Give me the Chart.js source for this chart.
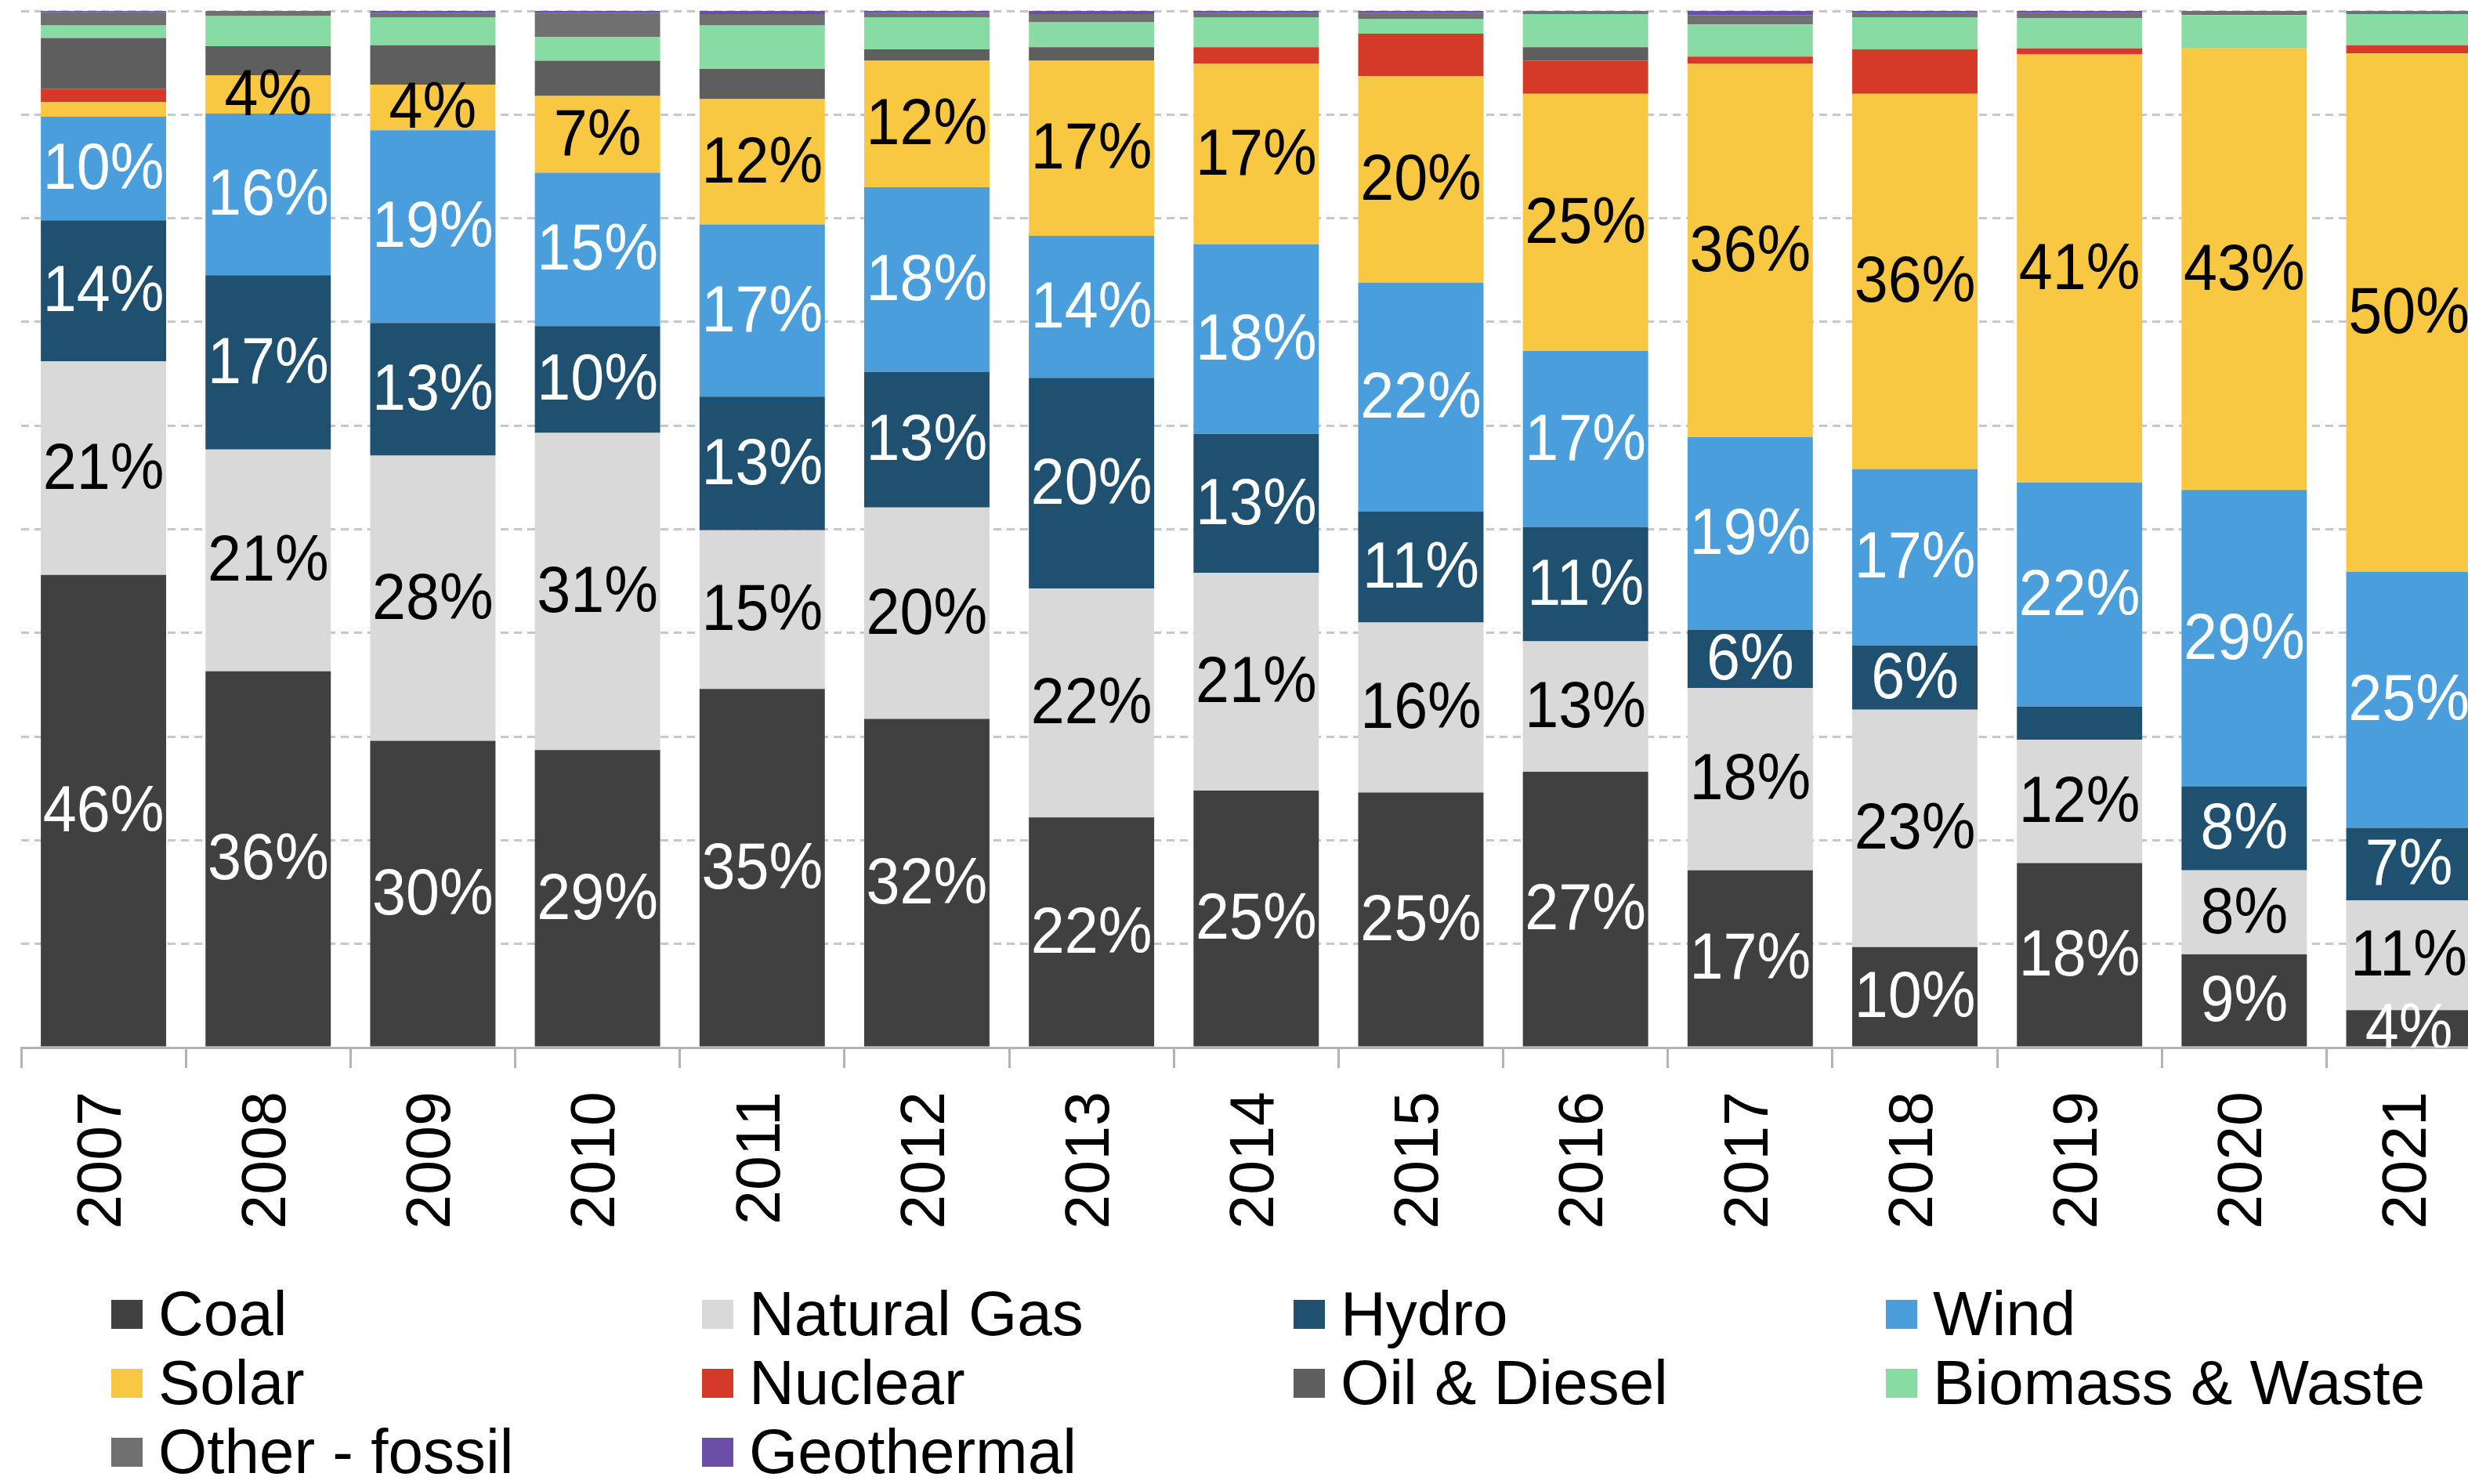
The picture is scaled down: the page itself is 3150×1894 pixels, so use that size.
<!DOCTYPE html>
<html>
<head>
<meta charset="utf-8">
<script src="https://cdn.jsdelivr.net/npm/chart.js@4.4.1/dist/chart.umd.min.js"></script>
<style>
  html, body { margin: 0; padding: 0; background: #fff; overflow: hidden; width: 3150px; height: 1894px; }
  #wrap { position: absolute; left: 0; top: 0; width: 3200px; height: 1577px; }
  #legend { position: absolute; left: 0; top: 0; width: 3150px; height: 1894px; pointer-events: none; }
  .item { position: absolute; display: flex; align-items: center; height: 88px;
          font-family: "Liberation Sans", Arial, sans-serif; font-size: 80px; line-height: 1; color: #000; white-space: nowrap; }
  .box { width: 40px; height: 37px; margin-right: 20px; flex: none; }
</style>
</head>
<body>
<div id="wrap"><canvas id="chartCanvas" width="3200" height="1577"></canvas></div>
<div id="legend"></div>
<script>
// share of generation, %
const years = ["2007", "2008", "2009", "2010", "2011", "2012", "2013", "2014", "2015", "2016", "2017", "2018", "2019", "2020", "2021"];
const coal = [45.6, 36.3, 29.6, 28.7, 34.6, 31.7, 22.2, 24.8, 24.6, 26.6, 17.1, 9.7, 17.8, 9.0, 3.6];
const naturalGas = [20.6, 21.4, 27.5, 30.6, 15.3, 20.4, 22.1, 21.0, 16.4, 12.6, 17.6, 22.9, 11.9, 8.1, 10.6];
const hydro = [13.6, 16.8, 12.8, 10.3, 12.9, 13.1, 20.3, 13.4, 10.7, 11.0, 5.6, 6.2, 3.2, 8.1, 7.0];
const wind = [10.0, 15.6, 18.6, 14.8, 16.6, 17.8, 13.7, 18.3, 22.1, 17.0, 18.6, 17.0, 21.6, 28.6, 24.7];
const solar = [1.4, 3.7, 4.4, 7.4, 12.1, 12.2, 16.9, 17.4, 19.9, 24.8, 36.0, 36.2, 41.3, 42.6, 50.0];
const nuclear = [1.3, 0, 0, 0, 0, 0, 0, 1.6, 4.1, 3.2, 0.7, 4.3, 0.6, 0, 0.8];
const oilDiesel = [4.9, 2.8, 3.8, 3.4, 2.9, 1.1, 1.3, 0, 0, 1.3, 0, 0, 0, 0, 0];
const biomass = [1.2, 2.9, 2.7, 2.3, 4.2, 3.1, 2.4, 2.9, 1.4, 3.2, 3.1, 3.1, 2.9, 3.2, 3.0];
const otherFossil = [1.3, 0.5, 0.4, 2.3, 1.1, 0.4, 0.8, 0.4, 0.6, 0.3, 0.9, 0.4, 0.5, 0.4, 0.3];
const geothermal = [0.1, 0, 0.2, 0.2, 0.3, 0.2, 0.3, 0.2, 0.2, 0, 0.4, 0.2, 0.2, 0, 0];

const font = '"Liberation Sans", Arial, sans-serif';
// label colour per series; series without an entry get no labels
const labelColors = ["#fff", "#000", "#fff", "#fff", "#000"];

const segmentLabels = {
  id: "segmentLabels",
  afterDatasetsDraw(chart) {
    const ctx = chart.ctx;
    const area = chart.chartArea;
    ctx.save();
    ctx.beginPath();
    ctx.rect(area.left, area.top, area.right - area.left, area.bottom - area.top);
    ctx.clip();
    ctx.font = "84px " + font;
    ctx.textAlign = "center";
    ctx.textBaseline = "middle";
    chart.data.datasets.forEach((ds, i) => {
      if (!labelColors[i]) return;
      chart.getDatasetMeta(i).data.forEach((bar, j) => {
        const v = ds.data[j];
        if (v < 3.5) return;
        ctx.fillStyle = labelColors[i];
        ctx.save();
        ctx.translate(bar.x, (bar.y + bar.base) / 2 + 3);
        ctx.scale(0.92, 1);
        ctx.fillText(Math.round(v) + "%", 0, 0);
        ctx.restore();
      });
    });
    ctx.restore();
  }
};

function series(label, data, color) {
  return { label: label, data: data, backgroundColor: color, borderWidth: 0 };
}

const ctx = document.getElementById("chartCanvas").getContext("2d");
const chart = new Chart(ctx, {
  type: "bar",
  data: {
    labels: years,
    datasets: [
      series("Coal", coal, "#404040"),
      series("Natural Gas", naturalGas, "#d9d9d9"),
      series("Hydro", hydro, "#20506f"),
      series("Wind", wind, "#4a9edb"),
      series("Solar", solar, "#f8c843"),
      series("Nuclear", nuclear, "#d53a28"),
      series("Oil & Diesel", oilDiesel, "#5e5e5e"),
      series("Biomass & Waste", biomass, "#88dba3"),
      series("Other - fossil", otherFossil, "#707070"),
      series("Geothermal", geothermal, "#6b4fa6"),
    ],
  },
  options: {
    responsive: false,
    animation: false,
    events: [],
    barPercentage: 1,
    categoryPercentage: 0.761,
    layout: { padding: { left: 27, right: 20, top: 14, bottom: 0 } },
    plugins: {
      legend: { display: false },
      tooltip: { enabled: false },
    },
    scales: {
      x: {
        stacked: true,
        afterFit: (scale) => { scale.height = 240; },
        border: { display: true, color: "#b4b4b4", width: 3 },
        grid: { drawOnChartArea: false, drawTicks: true, tickLength: 26, color: "#b4b4b4", lineWidth: 3 },
        ticks: { color: "#000", font: { family: font, size: 79 }, minRotation: 90, maxRotation: 90, padding: 30 },
      },
      y: {
        stacked: true,
        min: 0,
        max: 100,
        border: { display: false, dash: [10, 7] },
        grid: { color: "#c8c8c8", lineWidth: 3, drawTicks: false },
        ticks: { display: false, stepSize: 10 },
      },
    },
  },
  plugins: [segmentLabels],
});

// legend in four columns under the chart
const legendCols = [142, 896, 1651, 2407];
const legendEl = document.getElementById("legend");
chart.data.datasets.forEach((ds, i) => {
  const item = document.createElement("div");
  item.className = "item";
  item.style.left = legendCols[i % 4] + "px";
  item.style.top = (1633 + Math.floor(i / 4) * 88) + "px";
  const box = document.createElement("span");
  box.className = "box";
  box.style.background = ds.backgroundColor;
  item.appendChild(box);
  item.appendChild(document.createTextNode(ds.label));
  legendEl.appendChild(item);
});
</script>
</body>
</html>
